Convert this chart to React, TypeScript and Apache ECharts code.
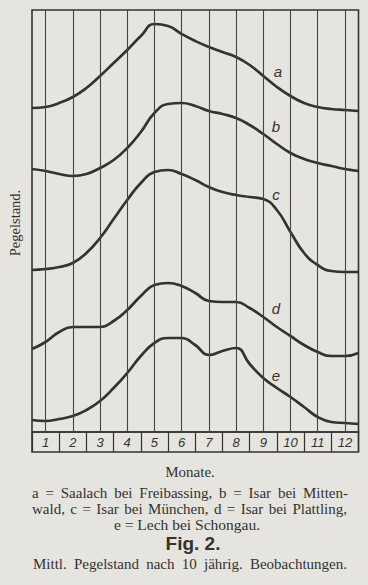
import React, { useEffect, useRef } from "react";
import * as echarts from "echarts";

// Month labels (x axis categories)
const months = ["1", "2", "3", "4", "5", "6", "7", "8", "9", "10", "11", "12"];
const monthCenters = [1, 2, 3, 4, 5, 6, 7, 8, 9, 10, 11, 12];

// Read positions (in months, half-month steps, from left edge to right edge)
const positions = [0.5, 1, 1.5, 2, 2.5, 3, 3.5, 4, 4.5, 5, 5.5, 6, 6.5, 7, 7.5, 8, 8.5, 9, 9.5, 10, 10.5, 11, 11.5, 12, 12.5];

// Relative gauge levels (arbitrary units)
const curveA = [324, 325, 329, 335, 344, 356, 369, 382, 396, 408, 406, 398, 391, 385, 380, 375, 367, 356, 345, 336, 329, 325, 323, 322, 321];
const curveB = [263, 261, 258, 256, 258, 264, 272, 284, 300, 319, 328, 329, 326, 321, 318, 314, 307, 298, 288, 279, 273, 269, 266, 263, 261];
const curveC = [162, 163, 165, 169, 179, 194, 213, 232, 249, 260, 262, 258, 252, 245, 240, 237, 235, 233, 222, 200, 179, 167, 161, 160, 160];
const curveD = [83, 90, 100, 105, 105, 105, 111, 122, 136, 147, 149, 146, 139, 131, 130, 130, 124, 115, 105, 96, 87, 80, 76, 76, 79];
const curveE = [12, 11, 13, 16, 22, 31, 44, 59, 76, 89, 94, 94, 87, 77, 81, 84, 68, 54, 44, 35, 25, 15, 10, 9, 8];

const seriesNames = ["a", "b", "c", "d", "e"];
const seriesValues = [curveA, curveB, curveC, curveD, curveE];

const captionLines = [
  "a = Saalach bei  Freibassing, b = Isar bei Mitten-",
  "wald,  c = Isar bei München,  d = Isar bei Plattling,",
  "e = Lech bei Schongau.",
];
const figTitle = "Fig. 2.";
const subtitle = "Mittl. Pegelstand nach  10 jährig.  Beobachtungen.";
const yAxisName = "Pegelstand.";
const xAxisName = "Monate.";

const INK = "#333331";
const PAPER = "#e5e4de";

function measure(text: string, font: string): number {
  const c = document.createElement("canvas").getContext("2d");
  if (!c) return text.length * 7;
  c.font = font;
  return c.measureText(text).width;
}

function justified(text: string, font: string, x0: number, x1: number, y: number): any[] {
  const words = text.split(/\s+/).filter((w) => w.length > 0);
  const widths = words.map((w) => measure(w, font));
  const total = widths.reduce((s, w) => s + w, 0);
  const gap = words.length > 1 ? (x1 - x0 - total) / (words.length - 1) : 0;
  let x = x0;
  return words.map((w, i) => {
    const el = {
      type: "text",
      x,
      y,
      style: { text: w, fill: INK, font, align: "left", verticalAlign: "middle" },
    };
    x += widths[i] + gap;
    return el;
  });
}

export default function App() {
  const ref = useRef<HTMLDivElement>(null);
  useEffect(() => {
    if (!ref.current) return;
    const chart = echarts.init(ref.current, null, { renderer: "svg" });
    const labelPos = [
      [278, 71],
      [276, 126],
      [276, 194],
      [276, 308],
      [276, 375],
    ];
    const serif = "'Liberation Serif', serif";
    const capFont = `15px ${serif}`;
    const lineSeries: any[] = seriesValues.map((vals, si) => ({
      name: seriesNames[si],
      type: "line",
      xAxisIndex: 0,
      yAxisIndex: 0,
      smooth: 0.5,
      symbol: "none",
      silent: true,
      lineStyle: { color: INK, width: 2.7 },
      data: positions.map((p, i) => [p, vals[i]]),
      z: 3,
    }));
    lineSeries.push({
      type: "line",
      xAxisIndex: 0,
      yAxisIndex: 0,
      data: [],
      silent: true,
      markLine: {
        silent: true,
        symbol: "none",
        label: { show: false },
        lineStyle: { color: "#444442", width: 1.1, type: "solid" },
        data: monthCenters.map((m) => ({ xAxis: m })),
      },
      z: 1,
    });
    const option: any = {
      animation: false,
      backgroundColor: PAPER,
      grid: [
        { left: 32, right: 9.5, top: 10, height: 422, show: true, borderColor: INK, borderWidth: 1.6, backgroundColor: "transparent" },
        { left: 32, right: 9.5, top: 432, height: 20, show: true, borderColor: INK, borderWidth: 1.6, backgroundColor: "transparent" },
      ],
      xAxis: [
        { type: "value", gridIndex: 0, min: 0.5, max: 12.5, show: false },
        {
          type: "category",
          gridIndex: 1,
          data: months,
          boundaryGap: true,
          axisLine: { show: false },
          axisTick: { show: false },
          splitLine: { show: true, lineStyle: { color: INK, width: 1.2 } },
          axisLabel: {
            inside: true,
            margin: 3,
            color: INK,
            fontSize: 13,
            fontStyle: "italic",
            fontFamily: "'Liberation Sans', sans-serif",
          },
        },
      ],
      yAxis: [
        { type: "value", gridIndex: 0, min: 0, max: 422, show: false },
        { type: "value", gridIndex: 1, min: 0, max: 1, show: false },
      ],
      series: lineSeries,
      graphic: [
        ...seriesNames.map((n, i) => ({
          type: "text",
          x: labelPos[i][0],
          y: labelPos[i][1],
          style: {
            text: n,
            fill: INK,
            font: "italic 15px 'Liberation Sans', sans-serif",
            align: "center",
            verticalAlign: "middle",
          },
        })),
        {
          type: "text",
          x: 15,
          y: 223,
          rotation: Math.PI / 2,
          style: { text: yAxisName, fill: INK, font: `14.5px ${serif}`, align: "center", verticalAlign: "middle" },
        },
        {
          type: "text",
          x: 190,
          y: 472,
          style: { text: xAxisName, fill: INK, font: `15px ${serif}`, align: "center", verticalAlign: "middle" },
        },
        ...justified(captionLines[0], capFont, 32, 348, 493),
        ...justified(captionLines[1], capFont, 32, 347, 508.5),
        {
          type: "text",
          x: 187,
          y: 524,
          style: { text: captionLines[2], fill: INK, font: `15.5px ${serif}`, align: "center", verticalAlign: "middle" },
        },
        {
          type: "text",
          x: 193,
          y: 543.5,
          style: { text: figTitle, fill: INK, font: "bold 19px 'Liberation Sans', sans-serif", align: "center", verticalAlign: "middle" },
        },
        ...justified(subtitle, capFont, 33, 347, 563.5),
      ],
    };
    chart.setOption(option);
    return () => chart.dispose();
  }, []);
  return (
    <div
      ref={ref}
      style={{ position: "fixed", left: 0, top: 0, width: 368, height: 585 }}
    />
  );
}
